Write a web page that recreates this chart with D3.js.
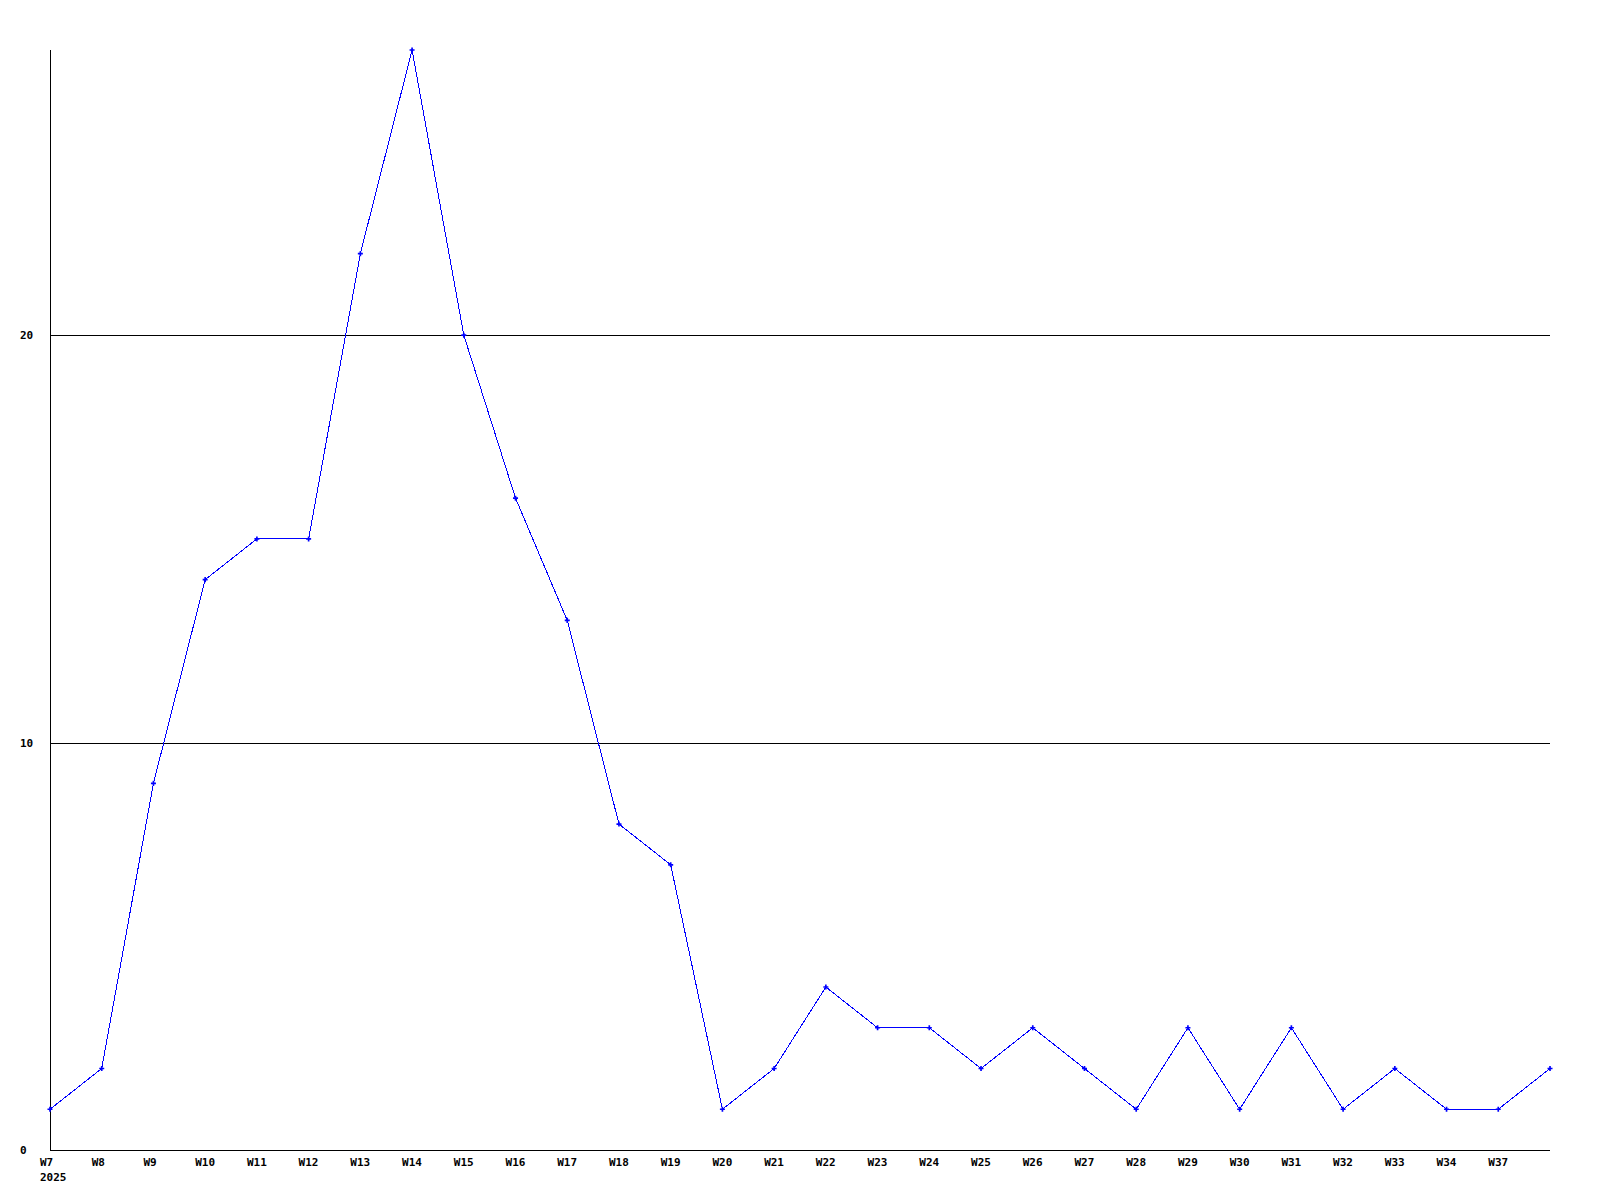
<!DOCTYPE html>
<html lang="en">
  <head>
    <meta charset="UTF-8" />
    <title>Weekly counts</title>
    <script src="https://cdnjs.cloudflare.com/ajax/libs/d3/7.8.5/d3.min.js"></script>
    <style>
      body {
        margin: 0;
        background: #fff;
      }
      text {
        font-family: 'DejaVu Sans Mono', monospace;
        font-weight: bold;
        font-size: 11px;
        fill: #000;
      }
    </style>
  </head>
  <body>
    <svg width="1600" height="1200"></svg>
    <script>
      // weeks (last point has no label in the original)
      const weeks = [
        'W7', 'W8', 'W9', 'W10', 'W11', 'W12', 'W13', 'W14', 'W15', 'W16',
        'W17', 'W18', 'W19', 'W20', 'W21', 'W22', 'W23', 'W24', 'W25', 'W26',
        'W27', 'W28', 'W29', 'W30', 'W31', 'W32', 'W33', 'W34', 'W37', ''
      ];
      const counts = [
        1, 2, 9, 14, 15, 15, 22, 27, 20, 16,
        13, 8, 7, 1, 2, 4, 3, 3, 2, 3,
        2, 1, 3, 1, 3, 1, 2, 1, 1, 2
      ];
      const yTicks = [0, 10, 20];
      const yearLabel = '2025';

      const svg = d3.select('svg');
      const plotLeft = 50, plotRight = 1550, plotTop = 50, plotBottom = 1150;

      const x = d3.scaleLinear().domain([0, weeks.length - 1]).range([plotLeft, plotRight]);
      const y = d3.scaleLinear().domain([0, 27]).range([plotBottom, plotTop]);

      // grid lines
      svg.selectAll('.grid')
        .data(yTicks.filter(d => d > 0))
        .enter()
        .append('line')
        .attr('x1', plotLeft)
        .attr('x2', plotRight)
        .attr('y1', d => Math.round(y(d)) + 0.5)
        .attr('y2', d => Math.round(y(d)) + 0.5)
        .attr('stroke', '#000')
        .attr('shape-rendering', 'crispEdges');

      // axes
      svg.append('line')
        .attr('x1', plotLeft + 0.5).attr('x2', plotLeft + 0.5)
        .attr('y1', plotTop).attr('y2', plotBottom)
        .attr('stroke', '#000')
        .attr('shape-rendering', 'crispEdges');
      svg.append('line')
        .attr('x1', plotLeft).attr('x2', plotRight)
        .attr('y1', plotBottom + 0.5).attr('y2', plotBottom + 0.5)
        .attr('stroke', '#000')
        .attr('shape-rendering', 'crispEdges');

      // y labels
      svg.selectAll('.ylab')
        .data(yTicks)
        .enter()
        .append('text')
        .attr('x', 20)
        .attr('y', d => y(d) + 4)
        .text(d => d);

      // x labels
      svg.selectAll('.xlab')
        .data(weeks)
        .enter()
        .append('text')
        .attr('x', (d, i) => x(i) - 10)
        .attr('y', 1166)
        .text(d => d);
      svg.append('text').attr('x', x(0) - 10).attr('y', 1181).text(yearLabel);

      // series
      const line = d3.line()
        .x((d, i) => x(i))
        .y(d => y(d));
      svg.append('path')
        .datum(counts)
        .attr('d', line)
        .attr('fill', 'none')
        .attr('stroke', '#0000ff')
        .attr('stroke-width', 1)
        .attr('shape-rendering', 'crispEdges');

      svg.selectAll('.pt')
        .data(counts)
        .enter()
        .append('path')
        .attr('d', d3.symbol().type(d3.symbolCross).size(14))
        .attr('transform', (d, i) => `translate(${x(i)},${y(d)})`)
        .attr('fill', '#0000ff');
    </script>
  </body>
</html>
